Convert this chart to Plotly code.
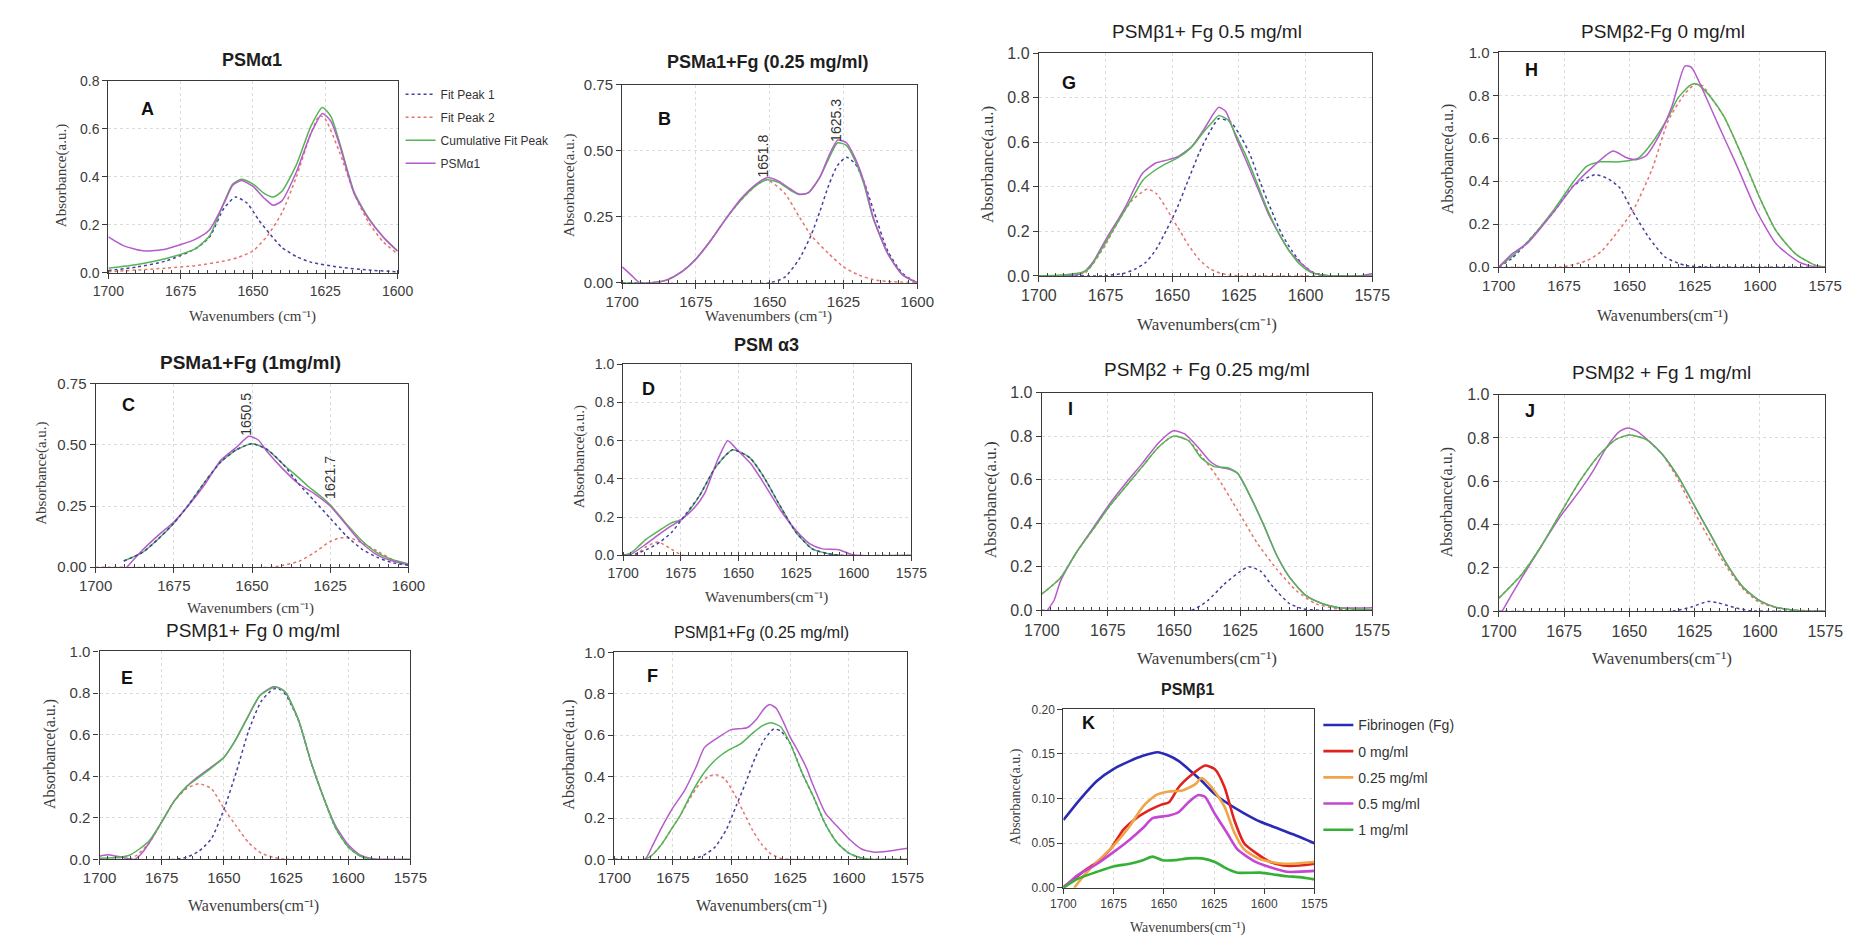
import plotly.graph_objects as go

# page is 1865x947; the browser body keeps its default 8px margin,
# so the figure itself is 16px smaller and every reference pixel is shifted by 8.
PAGE_W, PAGE_H = 1865, 947
OFF = 8
FW, FH = PAGE_W - 2 * OFF, PAGE_H - 2 * OFF

# ---------------- DATA ----------------
# Panel A  PSMα1
A_pk1_x = [1700, 1690, 1680, 1670, 1665, 1660, 1656, 1652, 1648, 1644, 1640, 1635, 1630, 1620, 1610, 1600]
A_pk1_y = [0.01, 0.025, 0.05, 0.10, 0.15, 0.27, 0.316, 0.29, 0.22, 0.16, 0.106, 0.068, 0.045, 0.024, 0.012, 0.005]
A_pk2_x = [1700, 1680, 1670, 1660, 1655, 1650, 1645, 1640, 1635, 1630, 1627, 1625, 1620, 1615, 1610, 1605, 1600]
A_pk2_y = [0.005, 0.02, 0.03, 0.05, 0.065, 0.092, 0.155, 0.25, 0.40, 0.58, 0.655, 0.64, 0.50, 0.33, 0.21, 0.13, 0.079]
A_cum_x = [1700, 1690, 1680, 1670, 1665, 1660, 1657, 1654, 1650, 1646, 1643, 1640, 1635, 1630, 1626, 1623, 1620, 1615, 1610, 1605, 1600]
A_cum_y = [0.02, 0.035, 0.06, 0.10, 0.155, 0.295, 0.37, 0.39, 0.37, 0.33, 0.316, 0.34, 0.45, 0.61, 0.689, 0.65, 0.54, 0.336, 0.228, 0.15, 0.092]
A_dat_x = [1700, 1695, 1688, 1680, 1670, 1665, 1660, 1657, 1654, 1650, 1646, 1643, 1640, 1635, 1630, 1626, 1623, 1620, 1615, 1610, 1605, 1600]
A_dat_y = [0.15, 0.115, 0.092, 0.10, 0.14, 0.18, 0.29, 0.365, 0.385, 0.36, 0.31, 0.282, 0.30, 0.42, 0.58, 0.664, 0.63, 0.53, 0.33, 0.225, 0.15, 0.09]

# Panel B  PSMa1+Fg (0.25 mg/ml)
B_red_x = [1700, 1690, 1685, 1680, 1675, 1670, 1665, 1660, 1655, 1651, 1645, 1640, 1636, 1630, 1625, 1620, 1615, 1610, 1600]
B_red_y = [0.0, 0.0, 0.01, 0.04, 0.09, 0.16, 0.24, 0.31, 0.365, 0.39, 0.34, 0.25, 0.18, 0.11, 0.06, 0.03, 0.012, 0.005, 0.0]
B_blue_x = [1700, 1650, 1645, 1640, 1636, 1633, 1630, 1627, 1624, 1621, 1618, 1615, 1610, 1605, 1600]
B_blue_y = [0.0, 0.0, 0.02, 0.09, 0.18, 0.27, 0.37, 0.445, 0.475, 0.45, 0.38, 0.28, 0.12, 0.035, 0.0]
B_cum_x = [1700, 1690, 1685, 1680, 1675, 1670, 1665, 1660, 1655, 1651, 1647, 1643, 1640, 1637, 1633, 1630, 1627, 1624, 1621, 1618, 1615, 1610, 1605, 1600]
B_cum_y = [0.0, 0.0, 0.01, 0.04, 0.09, 0.16, 0.24, 0.31, 0.365, 0.39, 0.38, 0.35, 0.334, 0.34, 0.40, 0.47, 0.53, 0.52, 0.46, 0.37, 0.245, 0.11, 0.03, 0.0]
B_dat_x = [1700, 1697, 1694, 1690, 1685, 1680, 1675, 1670, 1665, 1660, 1655, 1651, 1647, 1643, 1640, 1637, 1633, 1630, 1627, 1624, 1621, 1618, 1615, 1610, 1605, 1600]
B_dat_y = [0.06, 0.03, 0.0, 0.0, 0.01, 0.04, 0.09, 0.16, 0.24, 0.315, 0.37, 0.398, 0.385, 0.355, 0.336, 0.34, 0.40, 0.48, 0.54, 0.53, 0.47, 0.38, 0.25, 0.11, 0.03, 0.0]

# Panel C  PSMa1+Fg (1mg/ml)
C_blue_x = [1691, 1685, 1680, 1675, 1670, 1665, 1660, 1655, 1650, 1645, 1640, 1635, 1630, 1625, 1620, 1615, 1610, 1605, 1600]
C_blue_y = [0.025, 0.06, 0.115, 0.18, 0.26, 0.35, 0.43, 0.48, 0.505, 0.48, 0.42, 0.34, 0.27, 0.20, 0.13, 0.075, 0.04, 0.018, 0.008]
C_red_x = [1700, 1643, 1640, 1635, 1630, 1625, 1621.7, 1618, 1615, 1610, 1605, 1600]
C_red_y = [0.0, 0.0, 0.008, 0.024, 0.06, 0.105, 0.12, 0.117, 0.10, 0.066, 0.03, 0.01]
C_cum_x = [1691, 1685, 1680, 1675, 1670, 1665, 1660, 1655, 1650, 1645, 1640, 1635, 1632, 1628, 1625, 1620, 1615, 1610, 1605, 1600]
C_cum_y = [0.025, 0.06, 0.115, 0.18, 0.26, 0.35, 0.43, 0.48, 0.505, 0.48, 0.42, 0.365, 0.33, 0.29, 0.255, 0.18, 0.11, 0.058, 0.03, 0.013]
C_dat_x = [1690, 1685, 1680, 1675, 1670, 1665, 1660, 1655, 1651, 1648, 1645, 1640, 1635, 1630, 1625, 1620, 1615, 1610, 1605, 1600]
C_dat_y = [0.0, 0.07, 0.13, 0.185, 0.257, 0.34, 0.437, 0.49, 0.535, 0.52, 0.47, 0.40, 0.34, 0.30, 0.25, 0.175, 0.10, 0.05, 0.025, 0.01]

# Panel D  PSM α3
D_red_x = [1700, 1695, 1690, 1685, 1680, 1676, 1674, 1575]
D_red_y = [0.0, 0.0, 0.045, 0.07, 0.04, 0.01, 0.0, 0.0]
D_blue_x = [1700, 1697, 1694, 1689, 1684, 1679, 1674.5, 1667, 1660, 1652.5, 1645, 1639, 1632, 1625, 1618, 1611, 1605, 1575]
D_blue_y = [0.0, 0.0, 0.01, 0.035, 0.07, 0.12, 0.19, 0.31, 0.46, 0.552, 0.51, 0.41, 0.26, 0.12, 0.034, 0.009, 0.0, 0.0]
D_cum_x = [1700, 1697, 1694, 1690, 1684.4, 1679, 1674.5, 1667, 1660, 1652.5, 1645, 1639, 1632, 1625, 1618, 1611, 1605, 1575]
D_cum_y = [0.0, 0.01, 0.04, 0.085, 0.13, 0.17, 0.19, 0.31, 0.46, 0.552, 0.51, 0.41, 0.26, 0.12, 0.034, 0.009, 0.0, 0.0]
D_dat_x = [1700, 1697, 1690, 1684.4, 1679, 1674.5, 1669, 1664.6, 1659, 1654.6, 1650.4, 1644.7, 1639, 1632, 1625, 1619, 1613.5, 1606.5, 1600, 1575]
D_dat_y = [0.0, 0.003, 0.06, 0.11, 0.155, 0.19, 0.25, 0.326, 0.50, 0.60, 0.55, 0.48, 0.377, 0.24, 0.13, 0.06, 0.034, 0.03, 0.002, 0.0]

# Panel E  PSMβ1+ Fg 0 mg/ml
E_red_x = [1700, 1688, 1685, 1680, 1675, 1670, 1665, 1660, 1655, 1650, 1645, 1640, 1635, 1630, 1625, 1575]
E_red_y = [0.0, 0.0, 0.02, 0.08, 0.18, 0.28, 0.34, 0.364, 0.34, 0.245, 0.16, 0.08, 0.03, 0.01, 0.0, 0.0]
E_blue_x = [1700, 1670, 1665, 1660, 1655, 1650, 1645, 1640, 1635, 1630, 1627, 1625, 1620, 1615, 1610, 1605, 1600, 1595, 1590, 1575]
E_blue_y = [0.0, 0.0, 0.01, 0.04, 0.1, 0.24, 0.42, 0.62, 0.76, 0.82, 0.815, 0.79, 0.67, 0.47, 0.30, 0.15, 0.06, 0.015, 0.0, 0.0]
E_cum_x = [1700, 1692, 1688, 1684, 1680, 1675, 1670, 1665, 1661.7, 1655, 1650, 1646, 1640.6, 1635.4, 1630, 1627, 1625, 1620, 1615, 1610, 1605, 1600, 1595, 1590, 1575]
E_cum_y = [0.005, 0.01, 0.02, 0.05, 0.09, 0.18, 0.28, 0.35, 0.38, 0.44, 0.49, 0.56, 0.68, 0.79, 0.827, 0.82, 0.80, 0.67, 0.47, 0.30, 0.15, 0.06, 0.015, 0.0, 0.0]
E_dat_x = [1700, 1697, 1693, 1689, 1686, 1683, 1680, 1675, 1670, 1665, 1661.7, 1655, 1650, 1646, 1640.6, 1635.4, 1630, 1627, 1625, 1620, 1615, 1610, 1605, 1600, 1595, 1590, 1575]
E_dat_y = [0.015, 0.022, 0.015, 0.005, 0.0, 0.03, 0.08, 0.18, 0.28, 0.35, 0.385, 0.445, 0.49, 0.56, 0.68, 0.79, 0.83, 0.82, 0.80, 0.67, 0.47, 0.30, 0.16, 0.07, 0.02, 0.003, 0.0]

# Panel F  PSMβ1+Fg (0.25 mg/ml)
F_red_x = [1700, 1687, 1684, 1680, 1676, 1672, 1668, 1664, 1660, 1657, 1653, 1649, 1645, 1641, 1637, 1633, 1629, 1625, 1575]
F_red_y = [0.0, 0.0, 0.02, 0.07, 0.14, 0.21, 0.29, 0.36, 0.40, 0.41, 0.39, 0.32, 0.23, 0.14, 0.07, 0.025, 0.005, 0.0, 0.0]
F_blue_x = [1700, 1667, 1662, 1657, 1652, 1648, 1644, 1640, 1636, 1632, 1629, 1625, 1620, 1615, 1610, 1605, 1600, 1595, 1590, 1575]
F_blue_y = [0.0, 0.0, 0.02, 0.06, 0.15, 0.26, 0.37, 0.49, 0.58, 0.63, 0.62, 0.56, 0.42, 0.30, 0.17, 0.08, 0.03, 0.008, 0.0, 0.0]
F_cum_x = [1700, 1687, 1684, 1680, 1676, 1672, 1668, 1664, 1661, 1656, 1651, 1646, 1641, 1637, 1633, 1629, 1625, 1620, 1615, 1610, 1605, 1600, 1595, 1590, 1575]
F_cum_y = [0.0, 0.0, 0.02, 0.07, 0.14, 0.21, 0.30, 0.38, 0.43, 0.49, 0.53, 0.56, 0.61, 0.645, 0.66, 0.64, 0.56, 0.42, 0.30, 0.17, 0.08, 0.03, 0.008, 0.0, 0.0]
F_dat_x = [1700, 1687, 1684, 1680, 1675, 1670, 1665, 1661.6, 1656, 1650.4, 1646, 1643.4, 1639.2, 1636, 1633.7, 1631, 1628, 1625, 1622.5, 1618, 1615.5, 1610, 1605, 1600, 1594.6, 1589, 1585, 1580, 1575]
F_dat_y = [0.0, 0.0, 0.06, 0.15, 0.25, 0.334, 0.45, 0.54, 0.587, 0.626, 0.632, 0.636, 0.68, 0.73, 0.748, 0.73, 0.666, 0.59, 0.54, 0.44, 0.366, 0.224, 0.16, 0.1, 0.05, 0.035, 0.037, 0.045, 0.054]

# Panel G  PSMβ1+ Fg 0.5 mg/ml
G_red_x = [1700, 1684, 1680, 1675, 1670, 1665, 1659.3, 1656, 1652, 1650, 1648, 1644, 1640, 1636, 1632, 1628, 1624, 1575]
G_red_y = [0.0, 0.0, 0.05, 0.14, 0.25, 0.34, 0.39, 0.37, 0.30, 0.257, 0.22, 0.14, 0.075, 0.033, 0.012, 0.003, 0.0, 0.0]
G_blue_x = [1700, 1676, 1672, 1668, 1664, 1660, 1656, 1652, 1650, 1648, 1644, 1640, 1636, 1632.6, 1628, 1625, 1621, 1617, 1613, 1609, 1605, 1601, 1597, 1593, 1590, 1575]
G_blue_y = [0.0, 0.0, 0.005, 0.012, 0.03, 0.06, 0.12, 0.21, 0.257, 0.31, 0.43, 0.55, 0.645, 0.706, 0.69, 0.64, 0.55, 0.42, 0.3, 0.19, 0.11, 0.05, 0.015, 0.003, 0.0, 0.0]
G_cum_x = [1700, 1690, 1684, 1681, 1678, 1675, 1670, 1665, 1661, 1657, 1653, 1648, 1643, 1638, 1635, 1632.6, 1629, 1626, 1622, 1618, 1614, 1610, 1606, 1602, 1598, 1594, 1590, 1575]
G_cum_y = [0.0, 0.005, 0.015, 0.035, 0.09, 0.15, 0.25, 0.35, 0.43, 0.47, 0.5, 0.53, 0.575, 0.65, 0.69, 0.72, 0.70, 0.63, 0.53, 0.41, 0.29, 0.19, 0.11, 0.05, 0.016, 0.004, 0.0, 0.0]
G_dat_x = [1700, 1690, 1684, 1682, 1679.5, 1674.6, 1670, 1667.3, 1661.2, 1656.2, 1652, 1647.7, 1642.8, 1638, 1635, 1632.6, 1630, 1626, 1622, 1618.3, 1614, 1610, 1606, 1602, 1598, 1595, 1590, 1580, 1575]
G_dat_y = [0.0, 0.0, 0.01, 0.03, 0.066, 0.17, 0.26, 0.316, 0.46, 0.507, 0.52, 0.537, 0.58, 0.66, 0.72, 0.757, 0.74, 0.62, 0.51, 0.404, 0.28, 0.19, 0.11, 0.06, 0.02, 0.005, 0.0, 0.0, 0.01]

# Panel H  PSMβ2-Fg 0 mg/ml
H_blue_x = [1700, 1695, 1688.75, 1683, 1678.75, 1671.25, 1663, 1658, 1653.75, 1648.75, 1642.5, 1636.25, 1628.75, 1620, 1575]
H_blue_y = [0.0, 0.04, 0.12, 0.2, 0.26, 0.38, 0.43, 0.41, 0.37, 0.26, 0.137, 0.046, 0.008, 0.0, 0.0]
H_red_x = [1700, 1676, 1666.25, 1661, 1656.25, 1648.75, 1641.25, 1635, 1628.75, 1625, 1622, 1618.75, 1613.75, 1606.25, 1600, 1593.75, 1586.25, 1578.75, 1575]
H_red_y = [0.0, 0.0, 0.03, 0.07, 0.137, 0.26, 0.457, 0.685, 0.807, 0.85, 0.845, 0.79, 0.70, 0.50, 0.32, 0.167, 0.06, 0.008, 0.0]
H_cum_x = [1700, 1695, 1688.75, 1678.75, 1671.25, 1666.25, 1661.25, 1653.75, 1646.25, 1641.25, 1635, 1631.25, 1626.25, 1623.75, 1618.75, 1613.75, 1606.25, 1600, 1593.75, 1586.25, 1578.75, 1575]
H_cum_y = [0.0, 0.05, 0.12, 0.27, 0.40, 0.47, 0.49, 0.49, 0.51, 0.58, 0.70, 0.79, 0.85, 0.85, 0.79, 0.70, 0.50, 0.32, 0.167, 0.06, 0.008, 0.0]
H_dat_x = [1700, 1695, 1688.75, 1678.75, 1671.25, 1663.75, 1656.25, 1651.25, 1647.5, 1643.75, 1638.75, 1633.75, 1628.75, 1626.25, 1621.25, 1616.25, 1608.75, 1601.25, 1593.75, 1585, 1578.75, 1575]
H_dat_y = [0.0, 0.06, 0.114, 0.26, 0.38, 0.47, 0.54, 0.51, 0.50, 0.517, 0.61, 0.746, 0.936, 0.93, 0.807, 0.67, 0.47, 0.26, 0.107, 0.023, 0.0, 0.0]

# Panel I  PSMβ2 + Fg 0.25 mg/ml
I_red_x = [1700, 1692.9, 1686.7, 1680.5, 1674.3, 1668.2, 1662, 1655.8, 1650.2, 1644.6, 1639.7, 1633.5, 1626, 1618.6, 1611.2, 1603.7, 1596.3, 1588, 1575]
I_red_y = [0.075, 0.15, 0.27, 0.374, 0.48, 0.57, 0.66, 0.75, 0.80, 0.78, 0.71, 0.61, 0.46, 0.31, 0.19, 0.09, 0.03, 0.007, 0.0]
I_blue_x = [1700, 1643.4, 1637.2, 1631, 1624.8, 1621.7, 1617.3, 1612.4, 1606.2, 1601.2, 1595, 1575]
I_blue_y = [0.0, 0.0, 0.045, 0.12, 0.18, 0.20, 0.18, 0.105, 0.03, 0.007, 0.0, 0.0]
I_cum_x = [1700, 1692.9, 1686.7, 1680.5, 1674.3, 1668.2, 1662, 1655.8, 1650.2, 1644.6, 1639.7, 1634.7, 1629.7, 1626, 1621, 1616, 1611.2, 1606.2, 1600, 1593.8, 1587.6, 1575]
I_cum_y = [0.075, 0.15, 0.27, 0.374, 0.48, 0.57, 0.66, 0.75, 0.80, 0.78, 0.70, 0.66, 0.655, 0.63, 0.52, 0.39, 0.254, 0.15, 0.067, 0.03, 0.012, 0.003]
I_dat_x = [1697.9, 1695.4, 1692.9, 1686.7, 1680.5, 1674.3, 1668.2, 1662, 1655.8, 1650.2, 1646, 1641, 1636, 1632, 1629.7, 1626, 1621, 1616, 1611.2, 1606.2, 1600, 1593.8, 1587.6, 1575]
I_dat_y = [0.0, 0.045, 0.135, 0.27, 0.38, 0.49, 0.585, 0.675, 0.77, 0.825, 0.81, 0.75, 0.68, 0.655, 0.65, 0.63, 0.52, 0.39, 0.254, 0.15, 0.067, 0.03, 0.012, 0.012]

# Panel J  PSMβ2 + Fg 1 mg/ml
J_red_x = [1700, 1691.25, 1683.75, 1676.25, 1668.75, 1661.25, 1655, 1650, 1643.75, 1637.5, 1631.25, 1625, 1618.75, 1612.5, 1606.25, 1600, 1591, 1575]
J_red_y = [0.06, 0.17, 0.30, 0.455, 0.605, 0.726, 0.794, 0.813, 0.794, 0.726, 0.605, 0.455, 0.32, 0.20, 0.10, 0.04, 0.01, 0.0]
J_blue_x = [1700, 1633.75, 1626.25, 1620, 1616.25, 1610, 1603.75, 1575]
J_blue_y = [0.0, 0.0, 0.02, 0.045, 0.04, 0.018, 0.003, 0.0]
J_cum_x = [1700, 1691.25, 1683.75, 1676.25, 1668.75, 1661.25, 1655, 1650, 1643.75, 1637.5, 1631.25, 1625, 1618.75, 1612.5, 1606.25, 1600, 1593.75, 1585, 1575]
J_cum_y = [0.06, 0.17, 0.30, 0.455, 0.605, 0.726, 0.794, 0.813, 0.794, 0.726, 0.62, 0.485, 0.35, 0.214, 0.108, 0.048, 0.018, 0.003, 0.0]
J_dat_x = [1698.75, 1695, 1691.25, 1683.75, 1676.25, 1668.75, 1663.75, 1658.75, 1653.75, 1650.6, 1647.5, 1642.5, 1637.5, 1631.25, 1625, 1618.75, 1612.5, 1606.25, 1600, 1593.75, 1585, 1575]
J_dat_y = [0.0, 0.078, 0.154, 0.30, 0.44, 0.56, 0.65, 0.756, 0.83, 0.846, 0.834, 0.786, 0.726, 0.62, 0.485, 0.35, 0.214, 0.108, 0.048, 0.018, 0.003, 0.0]

# Panel K  PSMβ1 (raw spectra)
K_x_fg = [1700, 1691.4, 1683.2, 1675.1, 1667, 1660.4, 1653.1, 1647.4, 1642.5, 1637.7, 1631.2, 1624.6, 1618.1, 1610, 1601.9, 1593.7, 1585.6, 1575]
K_fg = [0.076, 0.1, 0.12, 0.133, 0.142, 0.148, 0.152, 0.148, 0.142, 0.133, 0.12, 0.105, 0.0945, 0.0835, 0.074, 0.067, 0.06, 0.05]
K_x_0 = [1700, 1694.6, 1689.7, 1683.2, 1676.7, 1670.2, 1663.7, 1657.2, 1651.5, 1647.4, 1642.5, 1636, 1629.5, 1624.6, 1619.8, 1614.9, 1610, 1603.5, 1597, 1590.5, 1582.3, 1575]
K_0 = [0.001, 0.01, 0.019, 0.029, 0.043, 0.065, 0.078, 0.087, 0.093, 0.096, 0.113, 0.127, 0.137, 0.133, 0.113, 0.076, 0.05, 0.038, 0.029, 0.025, 0.025, 0.027]
K_x_025 = [1694.6, 1689.7, 1683.2, 1675.1, 1667, 1660.4, 1653.9, 1647.4, 1640.9, 1634.4, 1631.2, 1626.3, 1619.8, 1614.9, 1610, 1601.9, 1590.5, 1575]
K_025 = [0.0, 0.014, 0.029, 0.047, 0.069, 0.091, 0.104, 0.108, 0.109, 0.116, 0.123, 0.113, 0.091, 0.062, 0.043, 0.032, 0.027, 0.029]
K_x_05 = [1700, 1693, 1683.2, 1675.1, 1667, 1660.4, 1655.6, 1647.4, 1642.5, 1637.7, 1632.8, 1629.5, 1624.6, 1618.1, 1613.3, 1605.1, 1597, 1588.8, 1575]
K_05 = [0.0, 0.014, 0.027, 0.04, 0.054, 0.067, 0.078, 0.081, 0.085, 0.096, 0.104, 0.102, 0.083, 0.06, 0.043, 0.03, 0.023, 0.018, 0.019]
K_x_1 = [1700, 1693, 1683.2, 1675.1, 1667, 1660.4, 1655.6, 1650.7, 1644.2, 1637.7, 1631.2, 1624.6, 1618.1, 1613.3, 1601.9, 1595.3, 1588.8, 1582.3, 1575]
K_1 = [0.0, 0.01, 0.018, 0.024, 0.027, 0.031, 0.035, 0.031, 0.031, 0.033, 0.033, 0.029, 0.021, 0.017, 0.017, 0.015, 0.013, 0.012, 0.0095]

LEGEND_A = ["Fit Peak 1", "Fit Peak 2", "Cumulative Fit Peak", "PSMα1"]
LEGEND_K = ["Fibrinogen (Fg)", "0 mg/ml", "0.25 mg/ml", "0.5 mg/ml", "1 mg/ml"]
XT_SPACE = "Wavenumbers (cm⁻¹)"
XT_NOSPACE = "Wavenumbers(cm⁻¹)"

# ---------------- STYLE / LAYOUT ----------------
COL = dict(blue="#41419f", red="#e5756c", cum="#55b455", dat="#b65bcb")
KCOL = ["#2a2ab5", "#e0231f", "#f0a548", "#c447d4", "#35b035"]

SANS = "Liberation Sans, Arial, sans-serif"
SERIF = "Liberation Serif, Times New Roman, serif"


def px(x):
    return (x - OFF) / FW


def py(y):
    return 1 - (y - OFF) / FH


# panel geometry in reference pixels: (left, right, top, bottom)
panels = {
    "A": dict(box=(92, 387, 73, 269), xmin=1600, ymax=0.8, dt=0.2, fmt=".1f", tf=14,
              title=("<b>PSMα1</b>", 238, 52, 18), letter=(132, 102), yt=(45, 170, 15),
              xt=(XT_SPACE, 239, 313, 15)),
    "B": dict(box=(616, 917, 77, 279), xmin=1600, ymax=0.75, dt=0.25, fmt=".2f", tf=15,
              title=("<b>PSMa1+Fg (0.25 mg/ml)</b>", 765, 54, 18), letter=(659, 112), yt=(562, 180, 15),
              xt=(XT_SPACE, 765, 313, 15)),
    "C": dict(box=(79, 398, 382, 569), xmin=1600, ymax=0.75, dt=0.25, fmt=".2f", tf=15,
              title=("<b>PSMa1+Fg (1mg/ml)</b>", 237, 360, 19), letter=(113, 404), yt=(23, 473, 15),
              xt=(XT_SPACE, 237, 611, 15)),
    "D": dict(box=(617, 911, 362, 557), xmin=1575, ymax=1.0, dt=0.2, fmt=".1f", tf=14,
              title=("<b>PSM α3</b>", 763, 342, 18), letter=(643, 387), yt=(572, 457, 15),
              xt=(XT_NOSPACE, 763, 600, 15)),
    "E": dict(box=(83, 400, 655, 867), xmin=1575, ymax=1.0, dt=0.2, fmt=".1f", tf=15,
              title=("PSMβ1+ Fg 0 mg/ml", 240, 634, 19), letter=(111, 682), yt=(33, 760, 16),
              xt=(XT_NOSPACE, 240, 915, 16)),
    "F": dict(box=(608, 907, 656, 867), xmin=1575, ymax=1.0, dt=0.2, fmt=".1f", tf=15,
              title=("PSMβ1+Fg (0.25 mg/ml)", 758, 636, 16), letter=(647, 680), yt=(562, 760, 16),
              xt=(XT_NOSPACE, 758, 915, 16)),
    "G": dict(box=(1041, 1381, 45, 272), xmin=1575, ymax=1.0, dt=0.2, fmt=".1f", tf=16,
              title=("PSMβ1+ Fg 0.5 mg/ml", 1212, 23, 19), letter=(1072, 75), yt=(988, 158, 17),
              xt=(XT_NOSPACE, 1212, 322, 17)),
    "H": dict(box=(1510, 1843, 44, 263), xmin=1575, ymax=1.0, dt=0.2, fmt=".1f", tf=15,
              title=("PSMβ2-Fg 0 mg/ml", 1677, 23, 19), letter=(1543, 62), yt=(1458, 153, 16),
              xt=(XT_NOSPACE, 1677, 313, 16)),
    "I": dict(box=(1044, 1381, 391, 613), xmin=1575, ymax=1.0, dt=0.2, fmt=".1f", tf=16,
              title=("PSMβ2 + Fg 0.25 mg/ml", 1212, 367, 19), letter=(1073, 408), yt=(992, 500, 17),
              xt=(XT_NOSPACE, 1212, 662, 17)),
    "J": dict(box=(1510, 1843, 393, 614), xmin=1575, ymax=1.0, dt=0.2, fmt=".1f", tf=16,
              title=("PSMβ2 + Fg 1 mg/ml", 1676, 371, 19), letter=(1542, 410), yt=(1458, 503, 16),
              xt=(XT_NOSPACE, 1676, 662, 17)),
    "K": dict(box=(1066, 1322, 714, 896), xmin=1575, ymax=0.2, dt=0.05, fmt=".2f", tf=12,
              title=("<b>PSMβ1</b>", 1193, 694, 16), letter=(1092, 728), yt=(1017, 803, 14),
              xt=(XT_NOSPACE, 1193, 937, 14)),
}

curves = {
    "A": [(A_pk1_x, A_pk1_y, "blue"), (A_pk2_x, A_pk2_y, "red"), (A_cum_x, A_cum_y, "cum"), (A_dat_x, A_dat_y, "dat")],
    "B": [(B_red_x, B_red_y, "red"), (B_blue_x, B_blue_y, "blue"), (B_cum_x, B_cum_y, "cum"), (B_dat_x, B_dat_y, "dat")],
    "C": [(C_red_x, C_red_y, "red"), (C_cum_x, C_cum_y, "cum"), (C_dat_x, C_dat_y, "dat"), (C_blue_x, C_blue_y, "blue")],
    "D": [(D_red_x, D_red_y, "red"), (D_cum_x, D_cum_y, "cum"), (D_dat_x, D_dat_y, "dat"), (D_blue_x, D_blue_y, "blue")],
    "E": [(E_red_x, E_red_y, "red"), (E_blue_x, E_blue_y, "blue"), (E_dat_x, E_dat_y, "dat"), (E_cum_x, E_cum_y, "cum")],
    "F": [(F_red_x, F_red_y, "red"), (F_blue_x, F_blue_y, "blue"), (F_dat_x, F_dat_y, "dat"), (F_cum_x, F_cum_y, "cum")],
    "G": [(G_red_x, G_red_y, "red"), (G_blue_x, G_blue_y, "blue"), (G_dat_x, G_dat_y, "dat"), (G_cum_x, G_cum_y, "cum")],
    "H": [(H_red_x, H_red_y, "red"), (H_blue_x, H_blue_y, "blue"), (H_cum_x, H_cum_y, "cum"), (H_dat_x, H_dat_y, "dat")],
    "I": [(I_red_x, I_red_y, "red"), (I_blue_x, I_blue_y, "blue"), (I_dat_x, I_dat_y, "dat"), (I_cum_x, I_cum_y, "cum")],
    "J": [(J_red_x, J_red_y, "red"), (J_blue_x, J_blue_y, "blue"), (J_dat_x, J_dat_y, "dat"), (J_cum_x, J_cum_y, "cum")],
}
K_series = [(K_x_fg, K_fg), (K_x_0, K_0), (K_x_025, K_025), (K_x_05, K_05), (K_x_1, K_1)]

fig = go.Figure()
layout = dict(width=FW, height=FH, margin=dict(l=0, r=0, t=0, b=0), autosize=False,
              paper_bgcolor="white", plot_bgcolor="white", showlegend=True)
annotations = []

legend_name = {"blue": LEGEND_A[0], "red": LEGEND_A[1], "cum": LEGEND_A[2], "dat": LEGEND_A[3]}
legend_rank = {"blue": 1, "red": 2, "cum": 3, "dat": 4}

for i, (key, p) in enumerate(panels.items(), start=1):
    xa = "xaxis" if i == 1 else f"xaxis{i}"
    ya = "yaxis" if i == 1 else f"yaxis{i}"
    xr = "x" if i == 1 else f"x{i}"
    yr = "y" if i == 1 else f"y{i}"
    l, r, t, b = p["box"]
    xt_vals = [v for v in [1700, 1675, 1650, 1625, 1600, 1575] if v >= p["xmin"]]
    common = dict(showline=True, linecolor="#3a3a3a", linewidth=1.2, mirror=True,
                  ticks="outside", ticklen=5, tickwidth=1.2, tickcolor="#3a3a3a",
                  showgrid=True, gridcolor="#dcdcdc", griddash="dot", gridwidth=1,
                  zeroline=False, tickfont=dict(family=SANS, size=p["tf"], color="#3c3c3c"))
    xdict = dict(common, domain=[px(l), px(r)], range=[1700, p["xmin"]], anchor=yr,
                 tickmode="array", tickvals=xt_vals, ticktext=[str(v) for v in xt_vals])
    if key != "K":
        xdict["minor"] = dict(ticks="inside", ticklen=3, tickwidth=1, tickcolor="#444",
                              dtick=3.125, tick0=1700, showgrid=False)
    layout[xa] = xdict
    layout[ya] = dict(common, domain=[py(b), py(t)], range=[0, p["ymax"]], anchor=xr,
                      dtick=p["dt"], tick0=0, tickformat=p["fmt"])

    if key == "K":
        for j, (xs, ys) in enumerate(K_series):
            fig.add_trace(go.Scatter(x=xs, y=ys, xaxis=xr, yaxis=yr, mode="lines",
                                     name=LEGEND_K[j], legend="legend2",
                                     legendgroup=f"k{j}",
                                     line=dict(color=KCOL[j], width=2.6, shape="spline", smoothing=0.6)))
    else:
        for xs, ys, sty in curves[key]:
            dash = "dot" if sty in ("blue", "red") else "solid"
            show = key == "A"
            fig.add_trace(go.Scatter(x=xs, y=ys, xaxis=xr, yaxis=yr, mode="lines",
                                     name=legend_name[sty], showlegend=show,
                                     legendgroup=f"a{sty}", legendrank=legend_rank[sty],
                                     line=dict(color=COL[sty], width=1.5, dash=dash,
                                               shape="spline", smoothing=0.6)))

    tt, tx, ty, ts = p["title"]
    annotations.append(dict(text=tt, x=px(tx), y=py(ty), xref="paper", yref="paper",
                            showarrow=False, xanchor="center", yanchor="middle",
                            font=dict(family=SANS, size=ts, color="#1e1e1e")))
    lx, ly = p["letter"]
    annotations.append(dict(text=f"<b>{key}</b>", x=px(lx), y=py(ly), xref="paper", yref="paper",
                            showarrow=False, xanchor="center", yanchor="middle",
                            font=dict(family=SANS, size=18, color="#111")))
    ytx, yty, yts = p["yt"]
    annotations.append(dict(text="Absorbance(a.u.)", x=px(ytx), y=py(yty), xref="paper", yref="paper",
                            showarrow=False, textangle=-90, xanchor="center", yanchor="middle",
                            font=dict(family=SERIF, size=yts, color="#3c3c3c")))
    xtt, xtx, xty, xts = p["xt"]
    annotations.append(dict(text=xtt, x=px(xtx), y=py(xty), xref="paper", yref="paper",
                            showarrow=False, xanchor="center", yanchor="middle",
                            font=dict(family=SERIF, size=xts, color="#3c3c3c")))

# peak position labels (rotated)
for txt, x0, y0 in [("1651.8", 760, 150), ("1625.3", 834, 113), ("1650.5", 233, 413), ("1621.7", 318, 477)]:
    annotations.append(dict(text=txt, x=px(x0), y=py(y0), xref="paper", yref="paper",
                            showarrow=False, textangle=-90, xanchor="center", yanchor="middle",
                            font=dict(family=SANS, size=14, color="#333")))

layout["annotations"] = annotations
layout["legend"] = dict(x=px(390), y=py(72), xanchor="left", yanchor="top",
                        bgcolor="rgba(0,0,0,0)", traceorder="grouped", tracegroupgap=4,
                        font=dict(family=SANS, size=12, color="#333"))
layout["legend2"] = dict(x=px(1326), y=py(714), xanchor="left", yanchor="top",
                         bgcolor="rgba(0,0,0,0)", traceorder="grouped", tracegroupgap=5,
                         font=dict(family=SANS, size=14, color="#333"))
fig.update_layout(**layout)

fig.write_html("out.html", config={"displayModeBar": False})
